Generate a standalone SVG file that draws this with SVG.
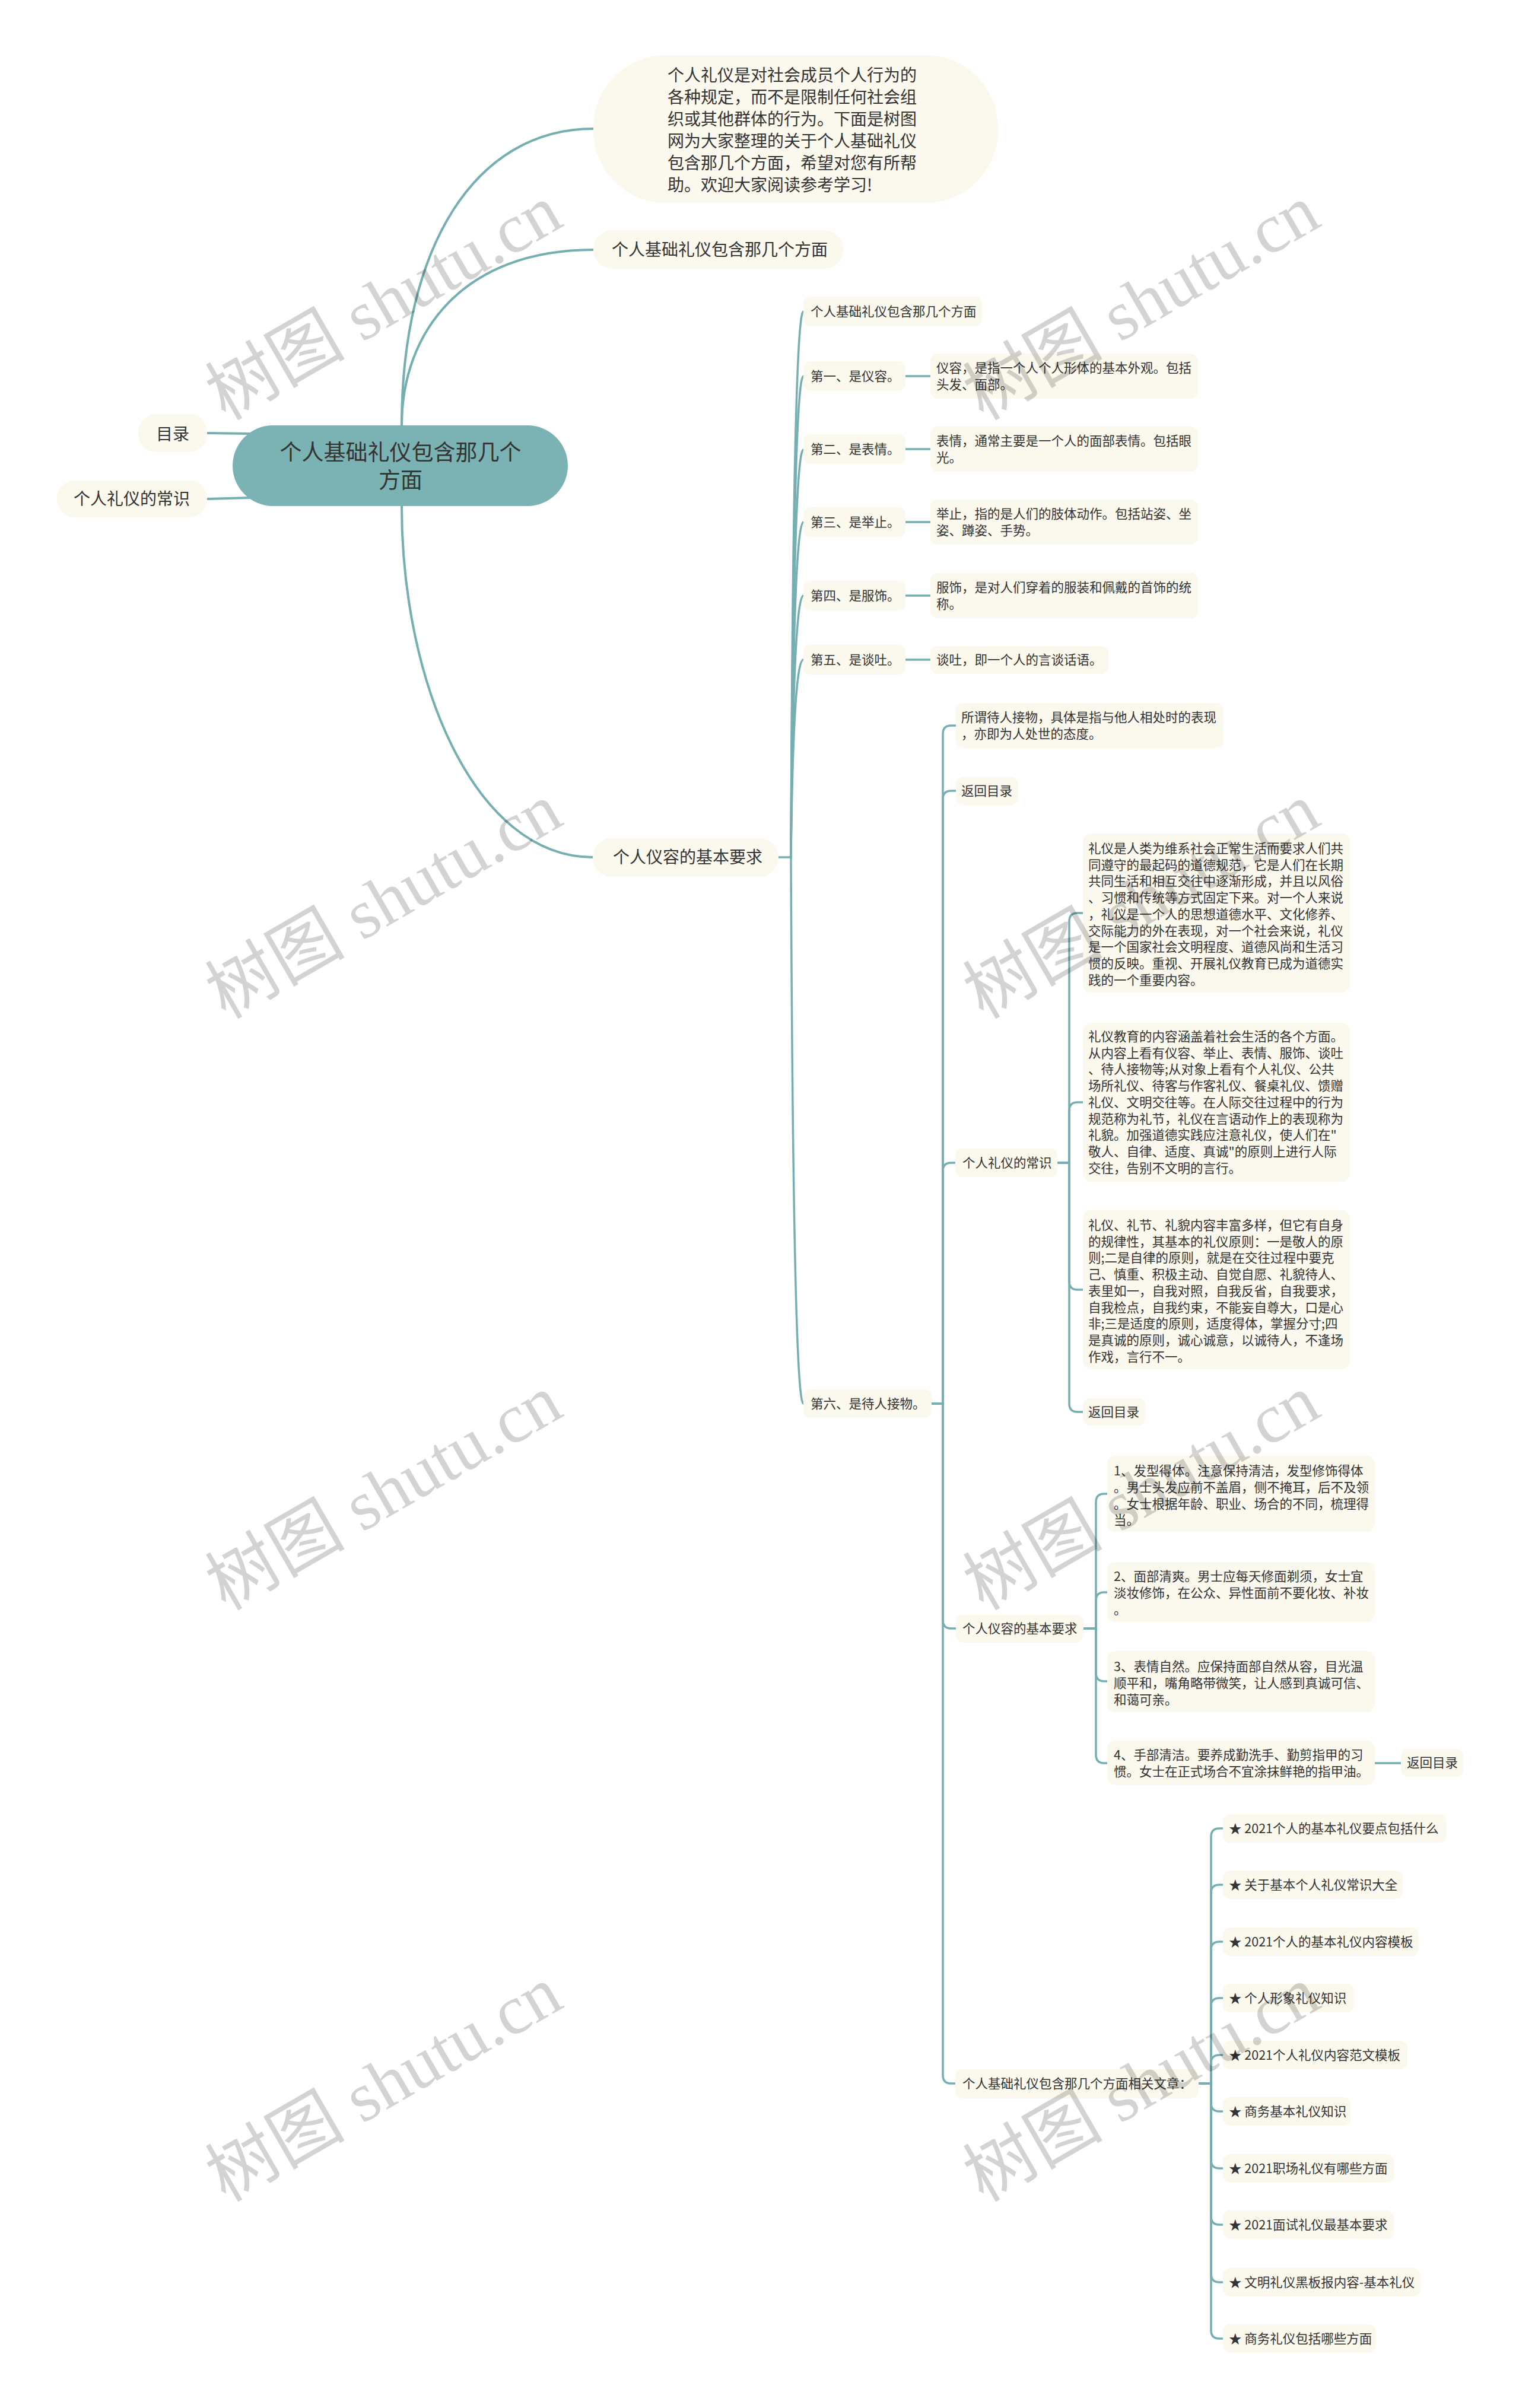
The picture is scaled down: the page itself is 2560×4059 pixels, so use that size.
<svg xmlns="http://www.w3.org/2000/svg" width="2560" height="4059" viewBox="0 0 2560 4059">
<style>
.bg{fill:#ffffff}
.n{fill:#fbf8ed}
.root{fill:#7bb3b5}
.t{font-family:"Noto Sans CJK SC","Noto Sans",sans-serif;fill:#333333}
.s{font-size:21.5px}
.m{font-size:28px}
.l{font-size:37px}
.c{fill:none;stroke:#76afb1;stroke-width:3.5;stroke-linecap:round}
.c1{fill:none;stroke:#76afb1;stroke-width:4}
.wm{font-family:"Liberation Serif","Noto Sans CJK SC",serif;font-size:118px;fill:#000000;opacity:0.17}
</style>
<rect class="bg" x="0" y="0" width="2560" height="4059"/>

<g id="connectors">
  <path class="c1" d="M 677 717 C 677 417, 800 217, 1000 217"/>
  <path class="c1" d="M 677 717 C 677 560, 780 421, 1000 421"/>
  <path class="c1" d="M 677 853 C 677 1150, 800 1445, 999 1445"/>
  <path class="c1" d="M 349 730 L 421 731"/>
  <path class="c1" d="M 349 841 L 421 839"/>
  <path class="c" d="M 1312 1445 L 1333 1445"/>
  <path class="c" d="M 1333 1445 Q 1337 525 1354 525"/>
  <path class="c" d="M 1333 1445 Q 1337 634 1354 634"/>
  <path class="c" d="M 1333 1445 Q 1337 758 1354 758"/>
  <path class="c" d="M 1333 1445 Q 1337 880 1354 880"/>
  <path class="c" d="M 1333 1445 Q 1337 1004 1354 1004"/>
  <path class="c" d="M 1333 1445 Q 1337 1112 1354 1112"/>
  <path class="c" d="M 1333 1445 Q 1337 2366 1354 2366"/>
  <path class="c" d="M 1526 634 H 1568"/>
  <path class="c" d="M 1526 757 H 1568"/>
  <path class="c" d="M 1526 880 H 1568"/>
  <path class="c" d="M 1526 1004 H 1568"/>
  <path class="c" d="M 1526 1112 H 1568"/>
  <path class="c" d="M 1570 2366 H 1589 V 1237 Q 1589 1223 1603 1223 H 1611"/>
  <path class="c" d="M 1570 2366 H 1589 V 1347 Q 1589 1333 1603 1333 H 1611"/>
  <path class="c" d="M 1570 2366 H 1589 V 1974 Q 1589 1960 1603 1960 H 1610"/>
  <path class="c" d="M 1570 2366 H 1589 V 2731 Q 1589 2745 1603 2745 H 1611"/>
  <path class="c" d="M 1570 2366 H 1589 V 3498 Q 1589 3512 1603 3512 H 1610"/>
  <path class="c" d="M 1782 1960 H 1802 V 1553 Q 1802 1539 1816 1539 H 1825"/>
  <path class="c" d="M 1782 1960 H 1802 V 1872 Q 1802 1858 1816 1858 H 1825"/>
  <path class="c" d="M 1782 1960 H 1802 V 2160 Q 1802 2174 1816 2174 H 1825"/>
  <path class="c" d="M 1782 1960 H 1802 V 2366 Q 1802 2380 1816 2380 H 1825"/>
  <path class="c" d="M 1826 2745 H 1847 V 2532 Q 1847 2518 1861 2518 H 1866"/>
  <path class="c" d="M 1826 2745 H 1847 V 2698 Q 1847 2684 1861 2684 H 1866"/>
  <path class="c" d="M 1826 2745 H 1847 V 2820 Q 1847 2834 1861 2834 H 1866"/>
  <path class="c" d="M 1826 2745 H 1847 V 2958 Q 1847 2972 1861 2972 H 1866"/>
  <path class="c" d="M 2317 2972 H 2361"/>
  <path class="c" d="M 2020 3512 H 2041 V 3096 Q 2041 3082 2055 3082 H 2061"/>
  <path class="c" d="M 2020 3512 H 2041 V 3191 Q 2041 3177 2055 3177 H 2061"/>
  <path class="c" d="M 2020 3512 H 2041 V 3287 Q 2041 3273 2055 3273 H 2061"/>
  <path class="c" d="M 2020 3512 H 2041 V 3382 Q 2041 3368 2055 3368 H 2061"/>
  <path class="c" d="M 2020 3512 H 2041 V 3478 Q 2041 3464 2055 3464 H 2061"/>
  <path class="c" d="M 2020 3512 H 2041 V 3545 Q 2041 3559 2055 3559 H 2061"/>
  <path class="c" d="M 2020 3512 H 2041 V 3641 Q 2041 3655 2055 3655 H 2061"/>
  <path class="c" d="M 2020 3512 H 2041 V 3736 Q 2041 3750 2055 3750 H 2061"/>
  <path class="c" d="M 2020 3512 H 2041 V 3833 Q 2041 3847 2055 3847 H 2061"/>
  <path class="c" d="M 2020 3512 H 2041 V 3928 Q 2041 3942 2055 3942 H 2061"/>
</g>

<g id="root">
  <rect class="root" x="392" y="717" width="565" height="136" rx="68"/>
  <text class="t l" text-anchor="middle"><tspan x="675" y="776">个人基础礼仪包含那几个</tspan><tspan x="675" y="823">方面</tspan></text>
</g>
<g id="n-mulu">
  <rect class="n" x="233" y="698" width="116" height="64" rx="30"/>
  <text class="t m" x="291" y="742" text-anchor="middle">目录</text>
</g>
<g id="n-changshi-left">
  <rect class="n" x="96" y="810" width="253" height="62" rx="30"/>
  <text class="t m" x="222" y="851" text-anchor="middle">个人礼仪的常识</text>
</g>
<g id="n-intro">
  <rect class="n" x="1000" y="93" width="682" height="249" rx="122"/>
  <text class="t m"><tspan x="1125" y="137">个人礼仪是对社会成员个人行为的</tspan><tspan x="1125" y="174">各种规定，而不是限制任何社会组</tspan><tspan x="1125" y="211">织或其他群体的行为。下面是树图</tspan><tspan x="1125" y="248">网为大家整理的关于个人基础礼仪</tspan><tspan x="1125" y="285">包含那几个方面，希望对您有所帮</tspan><tspan x="1125" y="322">助。欢迎大家阅读参考学习!</tspan></text>
</g>
<g id="n-l1a">
  <rect class="n" x="1000" y="388" width="421" height="65" rx="32"/>
  <text class="t m" x="1031" y="431">个人基础礼仪包含那几个方面</text>
</g>
<g id="n-l1b">
  <rect class="n" x="999" y="1413" width="313" height="65" rx="32"/>
  <text class="t m" x="1033" y="1455">个人仪容的基本要求</text>
</g>

<g id="n-l2a">
  <rect class="n" x="1354" y="500" width="301" height="50" rx="12"/>
  <text class="t s" x="1366" y="533">个人基础礼仪包含那几个方面</text>
</g>
<g id="n-d1">
  <rect class="n" x="1354" y="609" width="172" height="50" rx="12"/>
  <text class="t s" x="1366" y="642">第一、是仪容。</text>
</g>
<g id="n-d1x">
  <rect class="n" x="1568" y="596" width="451" height="76" rx="12"/>
  <text class="t s"><tspan x="1578" y="628">仪容，是指一个人个人形体的基本外观。包括</tspan><tspan x="1578" y="656">头发、面部。</tspan></text>
</g>
<g id="n-d2">
  <rect class="n" x="1354" y="732" width="172" height="50" rx="12"/>
  <text class="t s" x="1366" y="765">第二、是表情。</text>
</g>
<g id="n-d2x">
  <rect class="n" x="1568" y="719" width="451" height="76" rx="12"/>
  <text class="t s"><tspan x="1578" y="751">表情，通常主要是一个人的面部表情。包括眼</tspan><tspan x="1578" y="779">光。</tspan></text>
</g>
<g id="n-d3">
  <rect class="n" x="1354" y="855" width="172" height="50" rx="12"/>
  <text class="t s" x="1366" y="888">第三、是举止。</text>
</g>
<g id="n-d3x">
  <rect class="n" x="1568" y="842" width="451" height="76" rx="12"/>
  <text class="t s"><tspan x="1578" y="874">举止，指的是人们的肢体动作。包括站姿、坐</tspan><tspan x="1578" y="902">姿、蹲姿、手势。</tspan></text>
</g>
<g id="n-d4">
  <rect class="n" x="1354" y="979" width="172" height="50" rx="12"/>
  <text class="t s" x="1366" y="1012">第四、是服饰。</text>
</g>
<g id="n-d4x">
  <rect class="n" x="1568" y="966" width="451" height="76" rx="12"/>
  <text class="t s"><tspan x="1578" y="998">服饰，是对人们穿着的服装和佩戴的首饰的统</tspan><tspan x="1578" y="1026">称。</tspan></text>
</g>
<g id="n-d5">
  <rect class="n" x="1354" y="1087" width="172" height="50" rx="12"/>
  <text class="t s" x="1366" y="1120">第五、是谈吐。</text>
</g>
<g id="n-d5x">
  <rect class="n" x="1568" y="1089" width="300" height="47" rx="12"/>
  <text class="t s" x="1578" y="1120">谈吐，即一个人的言谈话语。</text>
</g>
<g id="n-d6">
  <rect class="n" x="1354" y="2342" width="216" height="48" rx="12"/>
  <text class="t s" x="1366" y="2374">第六、是待人接物。</text>
</g>

<g id="n-d6a">
  <rect class="n" x="1611" y="1185" width="451" height="76" rx="12"/>
  <text class="t s"><tspan x="1620" y="1217">所谓待人接物，具体是指与他人相处时的表现</tspan><tspan x="1620" y="1245">，亦即为人处世的态度。</tspan></text>
</g>
<g id="n-d6b">
  <rect class="n" x="1611" y="1310" width="105" height="47" rx="12"/>
  <text class="t s" x="1620" y="1341">返回目录</text>
</g>
<g id="n-d6c">
  <rect class="n" x="1610" y="1936" width="172" height="48" rx="12"/>
  <text class="t s" x="1622" y="1968">个人礼仪的常识</text>
</g>
<g id="n-d6d">
  <rect class="n" x="1611" y="2722" width="215" height="47" rx="12"/>
  <text class="t s" x="1622" y="2753">个人仪容的基本要求</text>
</g>
<g id="n-d6e">
  <rect class="n" x="1610" y="3488" width="410" height="49" rx="12"/>
  <text class="t s" x="1622" y="3520">个人基础礼仪包含那几个方面相关文章：</text>
</g>

<g id="n-cs1">
  <rect class="n" x="1825" y="1405" width="450" height="268" rx="14"/>
  <text class="t s"><tspan x="1834" y="1438">礼仪是人类为维系社会正常生活而要求人们共</tspan><tspan x="1834" y="1466">同遵守的最起码的道德规范，它是人们在长期</tspan><tspan x="1834" y="1493">共同生活和相互交往中逐渐形成，并且以风俗</tspan><tspan x="1834" y="1521">、习惯和传统等方式固定下来。对一个人来说</tspan><tspan x="1834" y="1549">，礼仪是一个人的思想道德水平、文化修养、</tspan><tspan x="1834" y="1577">交际能力的外在表现，对一个社会来说，礼仪</tspan><tspan x="1834" y="1604">是一个国家社会文明程度、道德风尚和生活习</tspan><tspan x="1834" y="1632">惯的反映。重视、开展礼仪教育已成为道德实</tspan><tspan x="1834" y="1660">践的一个重要内容。</tspan></text>
</g>
<g id="n-cs2">
  <rect class="n" x="1825" y="1724" width="450" height="268" rx="14"/>
  <text class="t s"><tspan x="1834" y="1755">礼仪教育的内容涵盖着社会生活的各个方面。</tspan><tspan x="1834" y="1783">从内容上看有仪容、举止、表情、服饰、谈吐</tspan><tspan x="1834" y="1810">、待人接物等;从对象上看有个人礼仪、公共</tspan><tspan x="1834" y="1838">场所礼仪、待客与作客礼仪、餐桌礼仪、馈赠</tspan><tspan x="1834" y="1866">礼仪、文明交往等。在人际交往过程中的行为</tspan><tspan x="1834" y="1894">规范称为礼节，礼仪在言语动作上的表现称为</tspan><tspan x="1834" y="1921">礼貌。加强道德实践应注意礼仪，使人们在"</tspan><tspan x="1834" y="1949">敬人、自律、适度、真诚"的原则上进行人际</tspan><tspan x="1834" y="1977">交往，告别不文明的言行。</tspan></text>
</g>
<g id="n-cs3">
  <rect class="n" x="1825" y="2040" width="450" height="268" rx="14"/>
  <text class="t s"><tspan x="1834" y="2073">礼仪、礼节、礼貌内容丰富多样，但它有自身</tspan><tspan x="1834" y="2101">的规律性，其基本的礼仪原则：一是敬人的原</tspan><tspan x="1834" y="2128">则;二是自律的原则，就是在交往过程中要克</tspan><tspan x="1834" y="2156">己、慎重、积极主动、自觉自愿、礼貌待人、</tspan><tspan x="1834" y="2184">表里如一，自我对照，自我反省，自我要求，</tspan><tspan x="1834" y="2212">自我检点，自我约束，不能妄自尊大，口是心</tspan><tspan x="1834" y="2239">非;三是适度的原则，适度得体，掌握分寸;四</tspan><tspan x="1834" y="2267">是真诚的原则，诚心诚意，以诚待人，不逢场</tspan><tspan x="1834" y="2295">作戏，言行不一。</tspan></text>
</g>
<g id="n-cs4">
  <rect class="n" x="1825" y="2357" width="105" height="46" rx="12"/>
  <text class="t s" x="1834" y="2388">返回目录</text>
</g>

<g id="n-yr1">
  <rect class="n" x="1866" y="2454" width="451" height="128" rx="14"/>
  <text class="t s"><tspan x="1877" y="2487">1、发型得体。注意保持清洁，发型修饰得体</tspan><tspan x="1877" y="2515">。男士头发应前不盖眉，侧不掩耳，后不及领</tspan><tspan x="1877" y="2543">。女士根据年龄、职业、场合的不同，梳理得</tspan><tspan x="1877" y="2570">当。</tspan></text>
</g>
<g id="n-yr2">
  <rect class="n" x="1866" y="2633" width="451" height="101" rx="14"/>
  <text class="t s"><tspan x="1877" y="2665">2、面部清爽。男士应每天修面剃须，女士宜</tspan><tspan x="1877" y="2693">淡妆修饰，在公众、异性面前不要化妆、补妆</tspan><tspan x="1877" y="2721">。</tspan></text>
</g>
<g id="n-yr3">
  <rect class="n" x="1866" y="2783" width="451" height="103" rx="14"/>
  <text class="t s"><tspan x="1877" y="2817">3、表情自然。应保持面部自然从容，目光温</tspan><tspan x="1877" y="2845">顺平和，嘴角略带微笑，让人感到真诚可信、</tspan><tspan x="1877" y="2873">和蔼可亲。</tspan></text>
</g>
<g id="n-yr4">
  <rect class="n" x="1866" y="2934" width="451" height="75" rx="14"/>
  <text class="t s"><tspan x="1877" y="2966">4、手部清洁。要养成勤洗手、勤剪指甲的习</tspan><tspan x="1877" y="2994">惯。女士在正式场合不宜涂抹鲜艳的指甲油。</tspan></text>
</g>
<g id="n-yr5">
  <rect class="n" x="2361" y="2948" width="105" height="47" rx="12"/>
  <text class="t s" x="2371" y="2979">返回目录</text>
</g>

<g id="n-a1"><rect class="n" x="2061" y="3058" width="376" height="48" rx="12"/><text class="t s" x="2071" y="3090">★ 2021个人的基本礼仪要点包括什么</text></g>
<g id="n-a2"><rect class="n" x="2061" y="3153" width="303" height="48" rx="12"/><text class="t s" x="2071" y="3185">★ 关于基本个人礼仪常识大全</text></g>
<g id="n-a3"><rect class="n" x="2061" y="3249" width="330" height="48" rx="12"/><text class="t s" x="2071" y="3281">★ 2021个人的基本礼仪内容模板</text></g>
<g id="n-a4"><rect class="n" x="2061" y="3344" width="221" height="48" rx="12"/><text class="t s" x="2071" y="3376">★ 个人形象礼仪知识</text></g>
<g id="n-a5"><rect class="n" x="2061" y="3440" width="311" height="48" rx="12"/><text class="t s" x="2071" y="3472">★ 2021个人礼仪内容范文模板</text></g>
<g id="n-a6"><rect class="n" x="2061" y="3535" width="215" height="48" rx="12"/><text class="t s" x="2071" y="3567">★ 商务基本礼仪知识</text></g>
<g id="n-a7"><rect class="n" x="2061" y="3631" width="288" height="48" rx="12"/><text class="t s" x="2071" y="3663">★ 2021职场礼仪有哪些方面</text></g>
<g id="n-a8"><rect class="n" x="2061" y="3726" width="288" height="48" rx="12"/><text class="t s" x="2071" y="3758">★ 2021面试礼仪最基本要求</text></g>
<g id="n-a9"><rect class="n" x="2061" y="3823" width="333" height="48" rx="12"/><text class="t s" x="2071" y="3855">★ 文明礼仪黑板报内容-基本礼仪</text></g>
<g id="n-a10"><rect class="n" x="2061" y="3918" width="258" height="48" rx="12"/><text class="t s" x="2071" y="3950">★ 商务礼仪包括哪些方面</text></g>

<g id="watermarks">
  <text class="wm" transform="translate(380 710) rotate(-30)">树图 shutu.cn</text>
  <text class="wm" transform="translate(1657 710) rotate(-30)">树图 shutu.cn</text>
  <text class="wm" transform="translate(380 1719) rotate(-30)">树图 shutu.cn</text>
  <text class="wm" transform="translate(1657 1719) rotate(-30)">树图 shutu.cn</text>
  <text class="wm" transform="translate(380 2716) rotate(-30)">树图 shutu.cn</text>
  <text class="wm" transform="translate(1657 2716) rotate(-30)">树图 shutu.cn</text>
  <text class="wm" transform="translate(380 3713) rotate(-30)">树图 shutu.cn</text>
  <text class="wm" transform="translate(1657 3713) rotate(-30)">树图 shutu.cn</text>
</g>
</svg>
